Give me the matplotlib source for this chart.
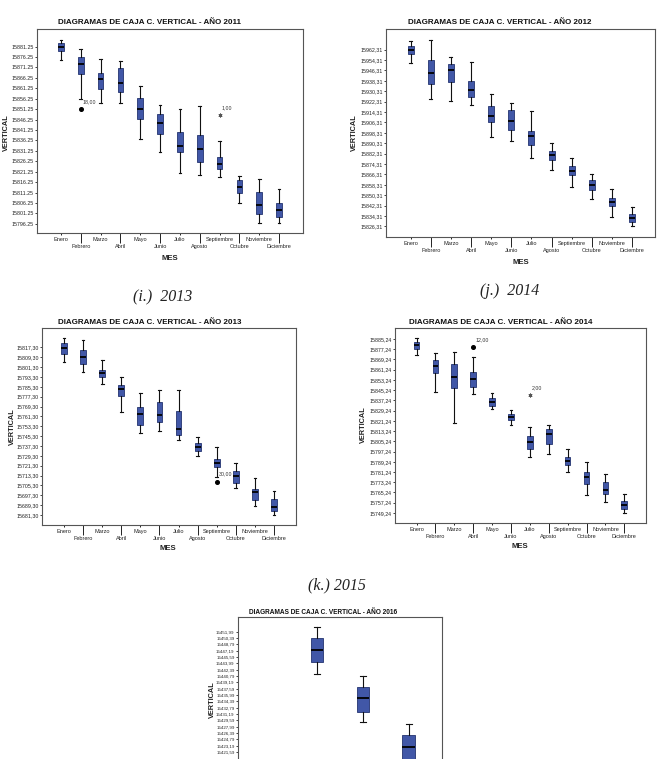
import matplotlib
matplotlib.use("Agg")
import matplotlib.pyplot as plt

# ---------------- data ----------------
months = ["Enero", "Febrero", "Marzo", "Abril", "Mayo", "Junio", "Julio",
          "Agosto", "Septiembre", "Octubre", "Noviembre", "Diciembre"]

# 2011
ticks_2011 = ["15881.25", "15876.25", "15871.25", "15866.25", "15861.25", "15856.25",
              "15851.25", "15846.25", "15841.25", "15836.25", "15831.25", "15826.25",
              "15821.25", "15816.25", "15811.25", "15806.25", "15801.25", "15796.25"]
whi_2011 = [15884.45, 15880.15, 15875.2, 15874.55, 15862.55, 15853.45, 15851.55, 15852.8, 15836.2, 15819.4, 15817.65, 15812.85]
q3_2011 = [15883.15, 15876.45, 15868.45, 15870.85, 15856.8, 15848.8, 15840.2, 15838.75, 15828.2, 15817.35, 15811.4, 15806.15]
med_2011 = [15881.25, 15872.8, 15865.9, 15863.65, 15851.2, 15844.5, 15833.8, 15832.05, 15825.0, 15814.15, 15805.5, 15802.8]
q1_2011 = [15879.35, 15868.15, 15860.8, 15859.7, 15846.4, 15839.2, 15830.6, 15826.1, 15822.45, 15810.95, 15800.85, 15799.45]
wlo_2011 = [15874.9, 15856.3, 15854.1, 15854.1, 15837.0, 15830.6, 15820.7, 15819.75, 15818.6, 15806.15, 15796.55, 15796.55]
out_2011 = [("Febrero", 15851.35, "o", "18,00"), ("Septiembre", 15848.5, "*", "1,00")]

# 2012
ticks_2012 = ["15962,31", "15954,31", "15946,31", "15938,31", "15930,31", "15922,31",
              "15914,31", "15906,31", "15898,31", "15890,31", "15882,31", "15874,31",
              "15866,31", "15858,31", "15850,31", "15842,31", "15834,31", "15826,31"]
whi_2012 = [15968.95, 15970.0, 15956.4, 15952.8, 15928.45, 15921.25, 15914.85, 15890.45, 15878.95, 15866.6, 15854.8, 15840.95]
q3_2012 = [15965.1, 15954.1, 15951.25, 15938.45, 15919.2, 15915.6, 15899.7, 15884.55, 15872.55, 15861.95, 15848.15, 15836.05]
med_2012 = [15962.31, 15944.3, 15946.4, 15931.5, 15911.5, 15907.65, 15895.6, 15881.25, 15868.95, 15858.15, 15845.05, 15833.0]
q1_2012 = [15959.25, 15936.15, 15937.7, 15925.9, 15906.4, 15900.45, 15888.95, 15877.65, 15865.6, 15854.05, 15842.0, 15829.65]
wlo_2012 = [15952.05, 15924.6, 15923.0, 15919.75, 15895.35, 15892.0, 15879.2, 15869.95, 15856.6, 15847.65, 15833.75, 15826.3]
out_2012 = []

# 2013
ticks_2013 = ["15817,30", "15809,30", "15801,30", "15793,30", "15785,30", "15777,30",
              "15769,30", "15761,30", "15753,30", "15745,30", "15737,30", "15729,30",
              "15721,30", "15713,30", "15705,30", "15697,30", "15689,30", "15681,30"]
whi_2013 = [15824.9, 15823.55, 15806.75, 15793.2, 15780.2, 15782.35, 15782.35, 15744.4, 15736.8, 15723.85, 15711.6, 15700.5]
q3_2013 = [15820.8, 15815.4, 15799.15, 15786.95, 15768.8, 15772.6, 15765.3, 15739.55, 15727.1, 15717.05, 15702.7, 15694.0]
med_2013 = [15816.75, 15809.45, 15796.4, 15783.7, 15763.15, 15762.6, 15750.9, 15736.8, 15723.85, 15713.3, 15699.7, 15687.55]
q1_2013 = [15811.9, 15803.75, 15793.2, 15777.45, 15753.95, 15756.35, 15746.3, 15733.3, 15720.0, 15707.6, 15693.2, 15684.6]
wlo_2013 = [15805.4, 15797.0, 15787.5, 15764.5, 15747.7, 15749.55, 15742.3, 15729.2, 15712.5, 15703.0, 15688.9, 15681.3]
out_2013 = [("Septiembre", 15708.4, "o", "30,00")]

# 2014
ticks_2014 = ["15885,24", "15877,24", "15869,24", "15861,24", "15853,24", "15845,24",
              "15837,24", "15829,24", "15821,24", "15813,24", "15805,24", "15797,24",
              "15789,24", "15781,24", "15773,24", "15765,24", "15757,24", "15749,24"]
whi_2014 = [15885.8, 15874.3, 15874.85, 15870.9, 15843.0, 15829.5, 15816.2, 15818.05, 15799.0, 15788.85, 15779.7, 15764.35]
q3_2014 = [15882.9, 15868.85, 15865.95, 15859.2, 15838.85, 15826.6, 15809.15, 15814.9, 15793.25, 15781.25, 15773.15, 15758.85]
med_2014 = [15880.85, 15864.4, 15855.55, 15853.95, 15835.95, 15824.05, 15804.45, 15811.25, 15790.1, 15777.1, 15767.5, 15755.25]
q1_2014 = [15877.4, 15858.7, 15846.95, 15847.7, 15833.15, 15821.65, 15799.25, 15803.15, 15787.0, 15771.9, 15764.05, 15752.35]
wlo_2014 = [15873.0, 15843.8, 15819.55, 15842.5, 15830.5, 15818.3, 15793.0, 15795.6, 15781.25, 15763.55, 15758.05, 15749.25]
out_2014 = [("Abril", 15878.7, "o", "12,00"), ("Julio", 15841.2, "*", "2,00")]

# 2016 (only the upper part of the chart is visible)
months_2016 = ["Enero", "Febrero", "Marzo", "Abril"]
box_months_2016 = ["Febrero", "Marzo", "Abril"]
ticks_2016 = ["15451,99", "15450,39", "15448,79", "15447,19", "15445,59", "15443,99",
              "15442,39", "15440,79", "15439,19", "15437,59", "15435,99", "15434,39",
              "15432,79", "15431,19", "15429,59", "15427,99", "15426,39", "15424,79",
              "15423,19", "15421,59"]
whi_2016 = [15453.17, 15440.79, 15428.66]
q3_2016 = [15450.39, 15438.0, 15425.88]
med_2016 = [15447.37, 15435.22, 15422.84]
q1_2016 = [15444.33, 15431.69, 15416.95]
wlo_2016 = [15441.3, 15429.16, 15413.27]

captions = [("(i.)  2013", 163, 297), ("(j.)  2014", 510, 291), ("(k.) 2015", 337, 585)]

# ---------------- layout ----------------
W, H = 666, 759
fig = plt.figure(figsize=(W / 100, H / 100), dpi=100)
fig.patch.set_facecolor("white")

SANS = ["Liberation Sans", "DejaVu Sans"]
BOX_FC = "#4157A7"
BOX_EC = "#23336F"
PT = 0.72  # points per pixel


def rect(l, t, r, b):
    return [l / W, 1 - b / H, (r - l) / W, (b - t) / H]


def panel(frame, xlim, ylim, cats, bcats, wlo, q1, med, q3, whi, ticks, outs,
          title, title_xy, vert_xy, mes_xy, tfs=5.8, tickfs=3.8, bw=0.3, xlabels=True):
    ax = fig.add_axes(rect(*frame))
    pos = {m: i + 1 for i, m in enumerate(cats)}
    stats = []
    for i, m in enumerate(bcats):
        stats.append(dict(med=med[i], q1=q1[i], q3=q3[i], whislo=wlo[i],
                          whishi=whi[i], fliers=[]))
    ax.bxp(stats, positions=[pos[m] for m in bcats], widths=bw, capwidths=bw * 0.5,
           patch_artist=True, showfliers=False, manage_ticks=False,
           boxprops=dict(facecolor=BOX_FC, edgecolor=BOX_EC, linewidth=0.6),
           medianprops=dict(color="black", linewidth=1.3),
           whiskerprops=dict(color="#111111", linewidth=0.8),
           capprops=dict(color="#111111", linewidth=0.8))
    for m, v, mk, lab in outs:
        if mk == "o":
            ax.plot(pos[m], v, "o", color="black", markersize=2.6, zorder=5)
        else:
            ax.plot(pos[m], v, marker=(6, 2, 0), color="#555555", markersize=2.8,
                    linestyle="none", markeredgewidth=0.6, zorder=5)
        ax.annotate(lab, (pos[m], v), xytext=(2 * PT, 5 * PT), textcoords="offset points",
                    fontsize=3.8, color="#333333", family=SANS, ha="left", va="bottom")
    ax.set_xlim(*xlim)
    ax.set_ylim(*ylim)
    yt = [float(s.replace(",", ".")) for s in ticks]
    ax.set_yticks(yt)
    ax.set_yticklabels(ticks, family=SANS)
    ax.tick_params(axis="y", direction="out", length=2 * PT, width=0.6,
                   labelsize=tickfs, pad=1, colors="#222222")
    xs = [pos[m] for m in cats]
    if xlabels:
        ax.set_xticks(xs[0::2])
        ax.set_xticklabels(cats[0::2], family=SANS)
        ax.set_xticks(xs[1::2], minor=True)
        ax.set_xticklabels(cats[1::2], minor=True, family=SANS)
        ax.tick_params(axis="x", which="major", direction="out", length=2 * PT, width=0.7,
                       labelsize=4, pad=2.2 * PT, colors="#222222")
        ax.tick_params(axis="x", which="minor", direction="out", length=10 * PT, width=0.7,
                       labelsize=4, pad=0.4, colors="#222222")
    else:
        ax.set_xticks([])
    for s in ax.spines.values():
        s.set_color("#555555")
        s.set_linewidth(0.8)
    fig.text(title_xy[0] / W, 1 - title_xy[1] / H, title, ha="center", va="center",
             fontsize=tfs, fontweight="bold", family=SANS, color="#111111")
    fig.text(vert_xy[0] / W, 1 - vert_xy[1] / H, "VERTICAL", ha="center", va="center",
             rotation=90, fontsize=5.3, fontweight="bold", family=SANS, color="#222222")
    if mes_xy is not None:
        fig.text(mes_xy[0] / W, 1 - mes_xy[1] / H, "MES", ha="center", va="center",
                 fontsize=5.6, fontweight="bold", family=SANS, color="#222222")
    return ax


panel((37, 29, 303, 233), (-0.21, 13.21), (15791.9, 15889.7), months, months,
      wlo_2011, q1_2011, med_2011, q3_2011, whi_2011, ticks_2011, out_2011,
      "DIAGRAMAS DE CAJA C. VERTICAL - AÑO 2011", (149, 23), (6, 133), (170, 259),
      bw=0.28)
panel((386, 29, 655, 237), (-0.23, 13.14), (15818.15, 15978.2), months, months,
      wlo_2012, q1_2012, med_2012, q3_2012, whi_2012, ticks_2012, out_2012,
      "DIAGRAMAS DE CAJA C. VERTICAL - AÑO 2012", (500, 23), (354, 133), (521, 263),
      bw=0.3)
panel((42, 328, 296, 525), (-0.15, 13.15), (15673.2, 15833.0), months, months,
      wlo_2013, q1_2013, med_2013, q3_2013, whi_2013, ticks_2013, out_2013,
      "DIAGRAMAS DE CAJA C. VERTICAL - AÑO 2013", (149.5, 323), (12, 427), (168, 548),
      bw=0.3)
panel((395, 328, 646, 523), (-0.14, 13.15), (15741.4, 15893.8), months, months,
      wlo_2014, q1_2014, med_2014, q3_2014, whi_2014, ticks_2014, out_2014,
      "DIAGRAMAS DE CAJA C. VERTICAL - AÑO 2014", (500.5, 323), (363, 425), (520, 547),
      bw=0.3)
panel((238, 617, 442, 900), (0.28, 4.72), (15384.2, 15455.7), months_2016, box_months_2016,
      wlo_2016, q1_2016, med_2016, q3_2016, whi_2016, ticks_2016, [],
      "DIAGRAMAS DE CAJA C. VERTICAL - AÑO 2016", (323.5, 613), (212, 700), None,
      tfs=4.7, tickfs=3.2, bw=0.28, xlabels=False)

for text, x, y in captions:
    fig.text(x / W, 1 - y / H, text, ha="center", va="center", fontsize=11.5,
             style="italic", family=["Liberation Serif", "DejaVu Serif"], color="#222222")

fig.savefig("out.png", dpi=100, facecolor="white")
